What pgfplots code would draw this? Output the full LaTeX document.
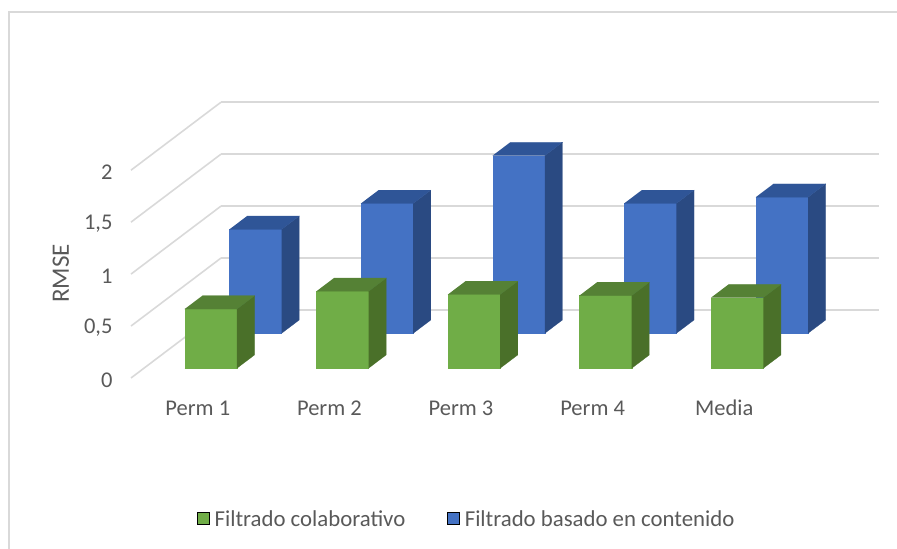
\documentclass[border=0pt]{standalone}
\usepackage{fontspec}
\setmainfont{Carlito}
\usepackage{pgfplots}
\pgfplotsset{compat=1.18}
\definecolor{txt}{HTML}{595959}
\definecolor{gridc}{HTML}{D9D9D9}
\definecolor{gfront}{HTML}{70AD47}
\definecolor{gtop}{HTML}{558135}
\definecolor{gside}{HTML}{4A7029}
\definecolor{bfront}{HTML}{4472C4}
\definecolor{btop}{HTML}{2F5597}
\definecolor{bside}{HTML}{2A4A82}
\newcommand{\chartfont}{\fontsize{22.5bp}{24bp}\selectfont}
% one 3D column: left edge, front depth, value, colour prefix
\newcommand{\column}[4]{%
  \pgfmathsetmacro{\xa}{#1}%
  \pgfmathsetmacro{\xb}{#1+0.397}%
  \pgfmathsetmacro{\ya}{#2}%
  \pgfmathsetmacro{\yb}{#2+0.196}%
  \addplot3[fill=#4front,draw=#4front,line width=0.2bp,forget plot] coordinates {(\xa,\ya,0) (\xb,\ya,0) (\xb,\ya,#3) (\xa,\ya,#3)};
  \addplot3[fill=#4side,draw=#4side,line width=0.2bp,forget plot] coordinates {(\xb,\ya,0) (\xb,\yb,0) (\xb,\yb,#3) (\xb,\ya,#3)};
  \addplot3[fill=#4top,draw=#4top,line width=0.2bp,forget plot] coordinates {(\xa,\ya,#3) (\xb,\ya,#3) (\xb,\yb,#3) (\xa,\yb,#3)};
}
\begin{document}
\begin{tikzpicture}[x=1bp,y=1bp]
\useasboundingbox (0,0) rectangle (897,549);
\draw[gridc,line width=1.6bp] (9,0) -- (9,537) -- (897,537);
\begin{axis}[
  at={(131bp,171bp)},anchor=origin,
  x={(131.6bp,0bp)},y={(90bp,68bp)},z={(0bp,103.9bp)},
  xmin=0,xmax=5,ymin=0,ymax=1,zmin=0,zmax=2,
  clip=false,
  axis line style={draw=none},
  major tick style={draw=none},
  xmajorgrids=false,ymajorgrids=false,zmajorgrids=true,
  major grid style={gridc,line width=1.6bp},
  xtick={0.5,1.5,2.5,3.5,4.5},
  xticklabels={Perm 1,Perm 2,Perm 3,Perm 4,Media},
  ytick=\empty,
  ztick={0,0.5,1,1.5,2},
  tick label style={font=\chartfont,text=txt},
  xticklabel style={anchor=center,xshift=1bp,yshift=-30bp},
  zticklabel style={anchor=east,xshift=-15bp,yshift=-2bp},
  /pgf/number format/assume math mode=true,
  /pgf/number format/use comma,
  label style={font=\fontsize{25bp}{26bp}\selectfont,text=txt},
  zlabel={RMSE},
  zlabel style={xshift=21bp,yshift=9bp},
  legend columns=2,
  legend cell align=left,
  legend image code/.code={\fill[#1] (0bp,-5bp) rectangle (12bp,7bp);},
  legend style={draw=none,fill=none,font=\fontsize{22.8bp}{24bp}\selectfont,text=txt,
    at={(0.449,-0.512)},anchor=center,
    /tikz/every odd column/.append style={column sep=3bp},
    /tikz/every even column/.append style={column sep=40bp}},
]
\addlegendimage{fill=gfront}
\addlegendentry{Filtrado colaborativo}
\addlegendimage{fill=bfront}
\addlegendentry{Filtrado basado en contenido}
% back row
\column{0.298}{0.657}{1.00}{b}
\column{1.298}{0.657}{1.25}{b}
\column{2.298}{0.657}{1.71}{b}
\column{3.298}{0.657}{1.25}{b}
\column{4.298}{0.657}{1.31}{b}
% front row
\column{0.31}{0.143}{0.57}{g}
\column{1.31}{0.143}{0.74}{g}
\column{2.31}{0.143}{0.71}{g}
\column{3.31}{0.143}{0.70}{g}
\column{4.31}{0.143}{0.68}{g}
\end{axis}
\end{tikzpicture}
\end{document}
